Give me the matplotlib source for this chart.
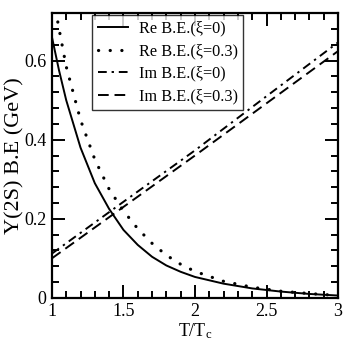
import matplotlib
matplotlib.use("Agg")
import matplotlib.pyplot as plt
from matplotlib.ticker import MultipleLocator

T_re = [1.0, 1.05, 1.1, 1.2, 1.3, 1.4, 1.5, 1.6, 1.7, 1.8, 1.9, 2.0, 2.2, 2.4, 2.6, 2.8, 3.0]
re_xi0 = [0.66, 0.575, 0.50, 0.38, 0.29, 0.225, 0.172, 0.134, 0.104, 0.082, 0.066, 0.053, 0.036, 0.024, 0.016, 0.010, 0.006]
re_xi03 = [0.78, 0.68, 0.585, 0.45, 0.35, 0.275, 0.22, 0.175, 0.138, 0.108, 0.085, 0.067, 0.042, 0.027, 0.017, 0.011, 0.006]

T_im = [1.0, 1.5, 2.0, 2.5, 3.0]
im_xi0 = [0.112, 0.243, 0.373, 0.510, 0.646]
im_xi03 = [0.100, 0.230, 0.360, 0.492, 0.624]

labels = ["Re B.E.(\u03be=0)", "Re B.E.(\u03be=0.3)", "Im B.E.(\u03be=0)", "Im B.E.(\u03be=0.3)"]

plt.rcParams['font.family'] = ['Liberation Serif', 'DejaVu Serif']
plt.rcParams['mathtext.fontset'] = 'stix'

fig = plt.figure(figsize=(3.46, 3.46), dpi=100)
ax = fig.add_axes([0.150, 0.139, 0.827, 0.823])

ax.plot(T_re, re_xi0, color='black', lw=1.4, ls='-', label=labels[0])
ax.plot(T_re, re_xi03, color='black', lw=2.3, ls=(0, (0.05, 3.6)), dash_capstyle='round', label=labels[1])
ax.plot(T_im, im_xi0, color='black', lw=1.4, ls=(0, (4.5, 2.5, 1.2, 2.5)), label=labels[2])
ax.plot(T_im, im_xi03, color='black', lw=1.4, ls=(0, (5.5, 3)), label=labels[3])

ax.set_xlim(1, 3)
ax.set_ylim(0, 0.72)
ax.xaxis.set_minor_locator(MultipleLocator(0.1))
ax.yaxis.set_minor_locator(MultipleLocator(0.04))
ax.set_xticks([1, 1.5, 2, 2.5, 3])
ax.set_xticklabels(["1", "1.5", "2", "2.5", "3"])
ax.set_yticks([0, 0.2, 0.4, 0.6])
ax.set_yticklabels(["0", "0.2", "0.4", "0.6"])
ax.tick_params(which='both', direction='in', top=True, right=True, labelsize=13, width=1.4)
ax.tick_params(which='major', length=9.5, pad=4)
ax.tick_params(which='minor', length=5)
for s in ax.spines.values():
    s.set_linewidth(1.6)

ax.set_xlabel("T/T$_\\mathregular{c}$", fontsize=13, labelpad=1)
ax.set_ylabel("\u03a5(2S) B.E (GeV)", fontsize=16, labelpad=0)

leg = ax.legend(loc='upper left', bbox_to_anchor=(0.14, 0.993), fontsize=11.7, frameon=True,
                fancybox=False, edgecolor='black', handlelength=1.85, borderpad=0.35,
                labelspacing=0.4, handletextpad=0.68, borderaxespad=0)
leg.get_frame().set_linewidth(1.0)

fig.savefig("out.png", dpi=100)
